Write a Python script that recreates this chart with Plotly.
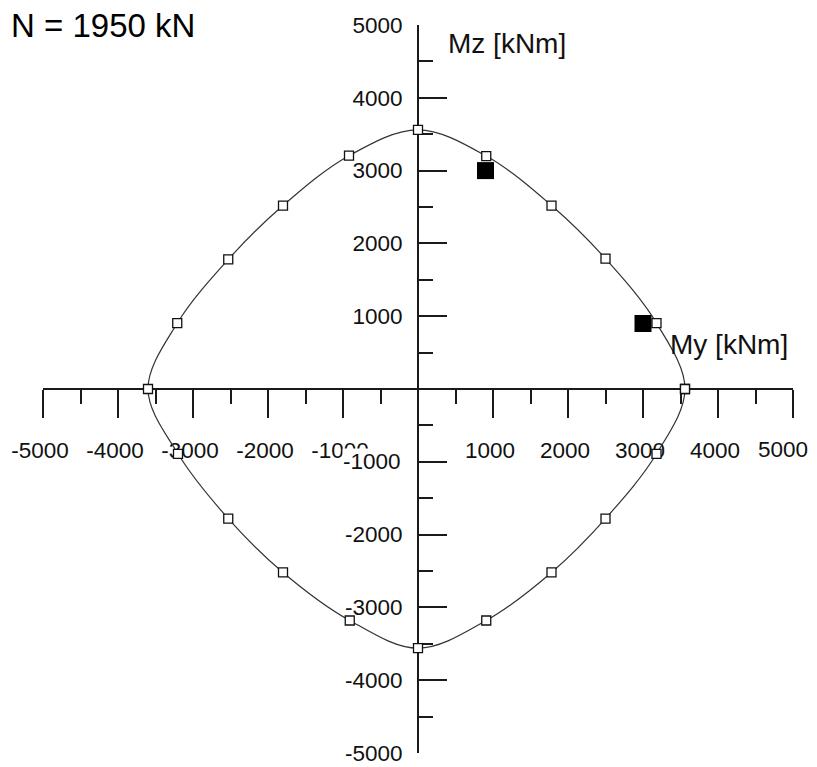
import plotly.graph_objects as go

# Interaction curve points (My, Mz) in kNm
curve_my = [3560, 3180, 2500, 1780, 910, 0, -920, -1800, -2530, -3210, -3600,
            -3200, -2530, -1800, -910, 0, 910, 1780, 2500, 3180, 3560]
curve_mz = [0, 905, 1790, 2520, 3200, 3560, 3205, 2520, 1780, 904, 0,
            -890, -1780, -2520, -3180, -3560, -3180, -2520, -1780, -890, 0]

# Load points (filled squares)
load_my = [900, 3000]
load_mz = [3000, 900]

x_tick_vals = [-5000, -4000, -3000, -2000, -1000, 1000, 2000, 3000, 4000, 5000]
# the last x label sits at the page edge and is drawn separately so it stays whole
x_edge_label = 5000
x_tick_text = [("" if v == x_edge_label else str(v)) for v in x_tick_vals]
# y label -1000 is drawn separately (it masks the x label -1000 as in the original)
y_masking_label = -1000
y_tick_vals = [-5000, -4000, -3000, -2000, -1000, 1000, 2000, 3000, 4000, 5000]
y_tick_text = [("" if v == y_masking_label else str(v)) for v in y_tick_vals]
minor_vals = [-4500, -3500, -2500, -1500, -500, 500, 1500, 2500, 3500, 4500]

title_text = "N = 1950 kN"
x_title = "My [kNm]"
y_title = "Mz [kNm]"

FONT = "Liberation Sans, Arial, sans-serif"
AX = "#1a1a1a"
TICKFONT = dict(family=FONT, size=22.5, color="#111111")

fig = go.Figure()
fig.add_trace(go.Scatter(
    x=curve_my, y=curve_mz, mode="lines+markers",
    line=dict(color="#333333", width=1.2, shape="spline", smoothing=1.0),
    marker=dict(symbol="square", size=9, color="white",
                line=dict(color="#111111", width=1.3)),
    hoverinfo="x+y", showlegend=False))
fig.add_trace(go.Scatter(
    x=load_my, y=load_mz, mode="markers",
    marker=dict(symbol="square", size=17, color="black",
                line=dict(color="black", width=0)),
    showlegend=False))

common = dict(range=[-5000, 5000], showgrid=False, zeroline=False,
              showline=True, linecolor=AX, linewidth=2,
              tickmode="array",
              tickcolor=AX, tickwidth=2, ticklen=28,
              tickfont=TICKFONT, ticklabeloverflow="allow",
              anchor="free", position=0.5, automargin=False,
              layer="below traces", fixedrange=True)

fig.update_layout(
    width=809, height=759,
    margin=dict(l=35, r=24, t=17, b=14),
    paper_bgcolor="white", plot_bgcolor="white",
    xaxis=dict(**common, side="bottom", ticks="outside", ticklabelstandoff=13,
               ticklabelshift=-3,
               tickvals=x_tick_vals, ticktext=x_tick_text,
               minor=dict(tickmode="array", tickvals=minor_vals, ticks="outside",
                          ticklen=14, tickwidth=2, tickcolor=AX, showgrid=False)),
    yaxis=dict(**common, side="left", ticks="inside", ticklabelstandoff=10,
               tickvals=y_tick_vals, ticktext=y_tick_text,
               minor=dict(tickmode="array", tickvals=minor_vals, ticks="inside",
                          ticklen=14, tickwidth=2, tickcolor=AX, showgrid=False)),
    annotations=[
        dict(text=title_text, xref="paper", yref="paper",
             x=-0.046, y=1.0, xanchor="left", yanchor="middle",
             showarrow=False, font=dict(family=FONT, size=33, color="black")),
        dict(text=y_title, xref="x", yref="y", x=370, y=4750,
             xanchor="left", yanchor="middle", showarrow=False,
             font=dict(family=FONT, size=28, color="#111111")),
        dict(text=x_title, xref="x", yref="y", x=3330, y=610,
             xanchor="left", yanchor="middle", showarrow=False,
             font=dict(family=FONT, size=28, color="#111111")),
        dict(text=str(y_masking_label), xref="x", yref="y", x=-215, y=y_masking_label,
             xanchor="right", yanchor="middle", showarrow=False,
             bgcolor="white", borderpad=0, font=TICKFONT),
        dict(text=str(x_edge_label), xref="paper", yref="paper", x=1.021, y=0.417,
             xanchor="right", yanchor="middle", showarrow=False,
             borderpad=0, font=TICKFONT),
    ],
)

fig.write_html("out.html")
